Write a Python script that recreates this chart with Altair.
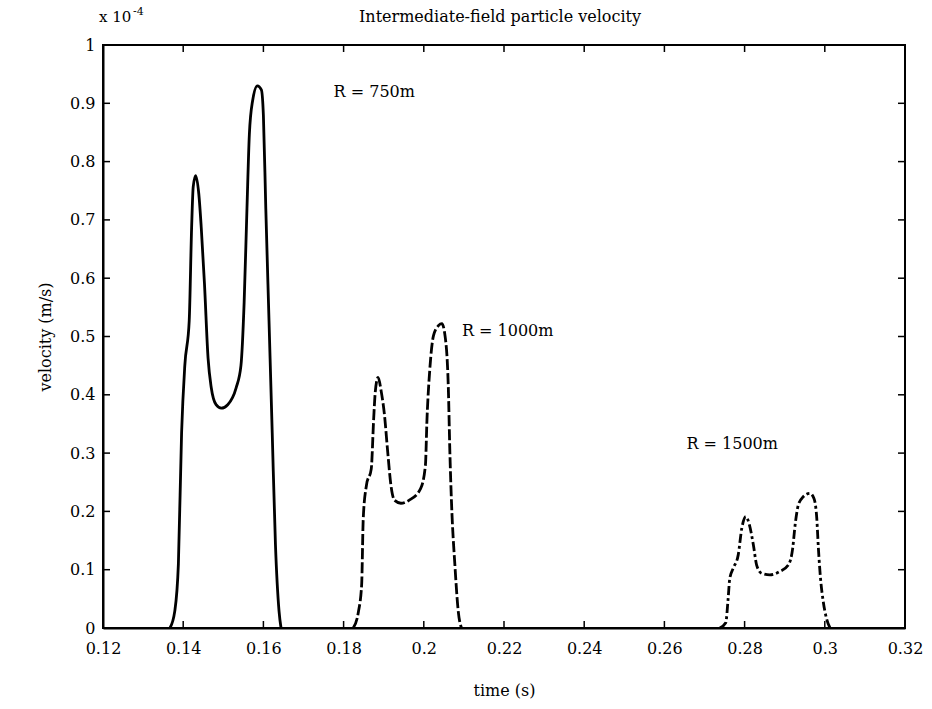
import altair as alt
import pandas as pd

# ---- data (velocity in units of 1e-4 m/s) ----
t_750 = [0.1367, 0.1379, 0.1388, 0.1396, 0.1404, 0.1415, 0.1421, 0.1425, 0.1431, 0.1439,
         0.1445, 0.1453, 0.1462, 0.1470, 0.1482, 0.1495, 0.1511, 0.1532, 0.1544, 0.1552,
         0.1559, 0.1565, 0.1573, 0.1585, 0.1595, 0.1600, 0.1606, 0.1614, 0.1622, 0.1630,
         0.1639, 0.1644]
v_750 = [0.0, 0.029, 0.11, 0.335, 0.45, 0.527, 0.687, 0.757, 0.776, 0.744,
         0.687, 0.591, 0.463, 0.412, 0.383, 0.377, 0.383, 0.412, 0.45, 0.559,
         0.719, 0.847, 0.904, 0.93, 0.923, 0.879, 0.719, 0.527, 0.335, 0.144,
         0.029, 0.0]

t_1000 = [0.1824, 0.1837, 0.1845, 0.1849, 0.1857, 0.1869, 0.1875, 0.1879, 0.1886, 0.1894,
          0.1902, 0.1910, 0.1918, 0.1927, 0.1943, 0.1963, 0.1992, 0.2004, 0.2008, 0.2015,
          0.2024, 0.2037, 0.2045, 0.2053, 0.2061, 0.2065, 0.2069, 0.2078, 0.2086, 0.2094]
v_1000 = [0.0, 0.028, 0.074, 0.188, 0.245, 0.273, 0.359, 0.405, 0.43, 0.405,
          0.365, 0.302, 0.245, 0.219, 0.214, 0.219, 0.239, 0.279, 0.359, 0.444,
          0.501, 0.519, 0.522, 0.501, 0.416, 0.302, 0.217, 0.103, 0.028, 0.0]

t_1500 = [0.2738, 0.2753, 0.2759, 0.2763, 0.2772, 0.2784, 0.2793, 0.2803, 0.2812, 0.2822,
          0.2830, 0.2842, 0.2863, 0.2888, 0.2909, 0.2920, 0.2926, 0.2934, 0.2946, 0.2963,
          0.2973, 0.2980, 0.2984, 0.2990, 0.2996, 0.3004, 0.3013]
v_1500 = [0.0, 0.009, 0.051, 0.085, 0.103, 0.125, 0.171, 0.191, 0.177, 0.142,
          0.108, 0.094, 0.091, 0.097, 0.108, 0.137, 0.177, 0.211, 0.225, 0.231,
          0.222, 0.188, 0.137, 0.08, 0.046, 0.017, 0.0]

x_ticks = [0.12, 0.14, 0.16, 0.18, 0.20, 0.22, 0.24, 0.26, 0.28, 0.30, 0.32]
y_ticks = [0.0, 0.1, 0.2, 0.3, 0.4, 0.5, 0.6, 0.7, 0.8, 0.9, 1.0]

label_text = ["R = 750m", "R = 1000m", "R = 1500m"]
label_t = [0.1775, 0.2095, 0.2655]
label_v = [0.92, 0.51, 0.315]

title_text = "Intermediate-field particle velocity"
x_title = "time (s)"
y_title = "velocity (m/s)"

# ---- layout ----
W, H = 802, 583
FONT = "DejaVu Serif"
TICK = 7

xs = alt.Scale(domain=[0.12, 0.32], nice=False, zero=False)
ys = alt.Scale(domain=[0, 1], nice=False)

def series_df(t, v):
    return pd.DataFrame({"t": t, "v": v})

x_enc = alt.X("t:Q", scale=xs, axis=alt.Axis(
    values=x_ticks, format="~g", title=x_title, ticks=False, grid=False,
    labelFont=FONT, labelFontSize=16, labelColor="black", labelPadding=12,
    titleFont=FONT, titleFontSize=16, titleFontWeight="normal", titleColor="black",
    titlePadding=26, domainColor="black", domainWidth=2, labelFlush=False))
y_enc = alt.Y("v:Q", scale=ys, axis=alt.Axis(
    values=y_ticks, format="~g", title=y_title, ticks=False, grid=False,
    labelFont=FONT, labelFontSize=16, labelColor="black", labelPadding=8,
    titleFont=FONT, titleFontSize=16, titleFontWeight="normal", titleColor="black",
    titlePadding=16, domainColor="black", domainWidth=2, labelFlush=False))

line750 = alt.Chart(series_df(t_750, v_750)).mark_line(
    color="black", strokeWidth=2.8, interpolate="monotone").encode(x=x_enc, y=y_enc)
line1000 = alt.Chart(series_df(t_1000, v_1000)).mark_line(
    color="black", strokeWidth=2.8, strokeDash=[11, 3], interpolate="monotone").encode(x="t:Q", y="v:Q")
line1500 = alt.Chart(series_df(t_1500, v_1500)).mark_line(
    color="black", strokeWidth=2.8, strokeDash=[9, 3, 3, 3], interpolate="monotone").encode(x="t:Q", y="v:Q")

xt = pd.DataFrame({"t": x_ticks})
yt = pd.DataFrame({"v": y_ticks})
tick_b = alt.Chart(xt).mark_rule(color="black", strokeWidth=1.5).encode(
    x="t:Q", y=alt.value(H), y2=alt.value(H - TICK))
tick_t = alt.Chart(xt).mark_rule(color="black", strokeWidth=1.5).encode(
    x="t:Q", y=alt.value(0), y2=alt.value(TICK))
tick_l = alt.Chart(yt).mark_rule(color="black", strokeWidth=1.5).encode(
    y="v:Q", x=alt.value(0), x2=alt.value(TICK))
tick_r = alt.Chart(yt).mark_rule(color="black", strokeWidth=1.5).encode(
    y="v:Q", x=alt.value(W), x2=alt.value(W - TICK))

labels = alt.Chart(pd.DataFrame({"t": label_t, "v": label_v, "txt": label_text})).mark_text(
    font=FONT, fontSize=16, color="black", align="left", baseline="middle").encode(
    x="t:Q", y="v:Q", text="txt:N")

title = alt.Chart(pd.DataFrame({"txt": [title_text]})).mark_text(
    font=FONT, fontSize=16, color="black", align="center", baseline="middle").encode(
    x=alt.value(W / 2 - 4), y=alt.value(-28), text="txt:N")
exp_base = alt.Chart(pd.DataFrame({"txt": ["x 10"]})).mark_text(
    font=FONT, fontSize=15, color="black", align="left", baseline="middle").encode(
    x=alt.value(-4), y=alt.value(-28), text="txt:N")
exp_sup = alt.Chart(pd.DataFrame({"txt": ["-4"]})).mark_text(
    font=FONT, fontSize=11, color="black", align="left", baseline="middle").encode(
    x=alt.value(30), y=alt.value(-33), text="txt:N")

chart = alt.layer(
    line750, line1000, line1500, tick_b, tick_t, tick_l, tick_r,
    labels, title, exp_base, exp_sup
).properties(
    width=W, height=H,
    autosize=alt.AutoSizeParams(type="none"),
    padding={"left": 103, "top": 45, "right": 27, "bottom": 81},
    background="white",
).configure_view(stroke="black", strokeWidth=2)

chart.save("out.html", embed_options={"renderer": "svg", "actions": False})
